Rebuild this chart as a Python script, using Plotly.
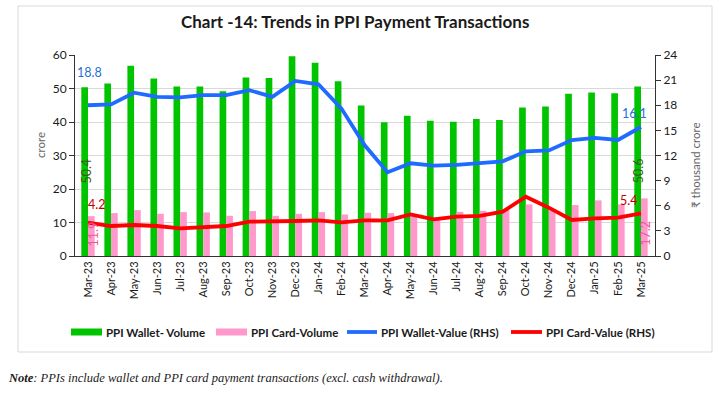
import plotly.graph_objects as go

months = ["Mar-23", "Apr-23", "May-23", "Jun-23", "Jul-23", "Aug-23", "Sep-23", "Oct-23",
          "Nov-23", "Dec-23", "Jan-24", "Feb-24", "Mar-24", "Apr-24", "May-24", "Jun-24",
          "Jul-24", "Aug-24", "Sep-24", "Oct-24", "Nov-24", "Dec-24", "Jan-25", "Feb-25", "Mar-25"]

wallet_volume = [50.4, 51.5, 56.8, 53.0, 50.6, 50.6, 49.2, 53.3, 53.1, 59.6, 57.7, 52.2, 44.9,
                 39.9, 41.9, 40.4, 40.1, 40.9, 40.6, 44.3, 44.6, 48.4, 48.8, 48.6, 50.6]
card_volume = [11.9, 12.8, 13.7, 12.6, 13.1, 13.0, 12.0, 13.4, 12.0, 12.6, 13.1, 12.4, 12.9,
               12.8, 12.4, 10.8, 13.2, 13.5, 13.8, 15.4, 13.7, 15.2, 16.6, 15.4, 17.2]
wallet_value = [18.0, 18.1, 19.5, 19.0, 18.95, 19.2, 19.2, 19.8, 19.0, 20.9, 20.5, 17.6, 13.25,
                10.0, 11.07, 10.8, 10.87, 11.07, 11.3, 12.5, 12.6, 13.85, 14.1, 13.85, 15.4]
card_value = [3.98, 3.58, 3.7, 3.58, 3.3, 3.42, 3.58, 4.1, 4.1, 4.18, 4.26, 4.02, 4.26,
              4.26, 4.97, 4.38, 4.7, 4.78, 5.3, 7.08, 5.77, 4.3, 4.5, 4.58, 5.1]

series_names = ["PPI Wallet- Volume", "PPI Card-Volume", "PPI Wallet-Value (RHS)", "PPI Card-Value (RHS)"]

# data labels shown at first and last points
label_wallet_volume = ["50.4", "50.6"]
label_card_volume = ["11.9", "17.2"]
label_wallet_value = ["18.8", "16.1"]
label_card_value = ["4.2", "5.4"]

GREEN = "#00C400"
PINK = "#FF99CC"
BLUE = "#1F6BFF"
RED = "#FF0000"
FONT = "Lato, 'Open Sans', sans-serif"

W, H = 718, 394
ML, MR, MT, MB = 75, 63, 55, 138
pw, ph = W - ML - MR, H - MT - MB


def px(xp):
    return (xp - ML) / pw


def py(yp):
    return (H - MB - yp) / ph


fig = go.Figure()
fig.add_trace(go.Bar(x=months, y=wallet_volume, name=series_names[0],
                     marker=dict(color=GREEN, line=dict(width=0))))
fig.add_trace(go.Bar(x=months, y=card_volume, name=series_names[1],
                     marker=dict(color=PINK, line=dict(width=0))))
fig.add_trace(go.Scatter(x=months, y=wallet_value, name=series_names[2], yaxis="y2",
                         mode="lines", line=dict(color=BLUE, width=3.8)))
fig.add_trace(go.Scatter(x=months, y=card_value, name=series_names[3], yaxis="y2",
                         mode="lines", line=dict(color=RED, width=3.8)))

ann = []
first, last = months[0], months[-1]
LF = 12.5
ann.append(dict(x=first, y=wallet_value[0], yref="y2", text=label_wallet_value[0], showarrow=False,
                font=dict(color="#1F6FD8", size=LF, family=FONT), xshift=1.5, yshift=33))
ann.append(dict(x=last, y=wallet_value[-1], yref="y2", text=label_wallet_value[1], showarrow=False,
                font=dict(color="#1F6FD8", size=LF, family=FONT), xshift=-7, yshift=14))
ann.append(dict(x=first, y=card_value[0], yref="y2", text=label_card_value[0], showarrow=False,
                font=dict(color="#C00000", size=LF, family=FONT), xshift=8, yshift=18))
ann.append(dict(x=last, y=card_value[-1], yref="y2", text=label_card_value[1], showarrow=False,
                font=dict(color="#C00000", size=LF, family=FONT), xshift=-13, yshift=13))
ann.append(dict(x=first, y=wallet_volume[0] / 2, yref="y", text=label_wallet_volume[0], showarrow=False,
                textangle=-90, font=dict(color="#405A22", size=LF, family=FONT), xshift=-1))
ann.append(dict(x=last, y=wallet_volume[-1] / 2, yref="y", text=label_wallet_volume[1], showarrow=False,
                textangle=-90, font=dict(color="#405A22", size=LF, family=FONT), xshift=-3))
ann.append(dict(x=first, y=card_volume[0] / 2, yref="y", text=label_card_volume[0], showarrow=False,
                textangle=-90, font=dict(color="#F0559A", size=LF, family=FONT), xshift=5.5, yshift=2))
ann.append(dict(x=last, y=card_volume[-1] / 2, yref="y", text=label_card_volume[1], showarrow=False,
                textangle=-90, font=dict(color="#F0559A", size=LF, family=FONT), xshift=4.5, yshift=-6))

# title
ann.append(dict(xref="paper", yref="paper", x=px(355), y=py(22), xanchor="center", yanchor="middle",
                text="<b>Chart -14: Trends in PPI Payment Transactions</b>", showarrow=False,
                font=dict(size=17, color="#1a1a1a", family=FONT)))
# axis titles
ann.append(dict(xref="paper", yref="paper", x=px(40), y=py(145), xanchor="center", yanchor="middle",
                text="crore", textangle=-90, showarrow=False,
                font=dict(size=11.5, color="#666666", family=FONT)))
ann.append(dict(xref="paper", yref="paper", x=px(695), y=py(165), xanchor="center", yanchor="middle",
                text="₹ thousand crore", textangle=-90, showarrow=False,
                font=dict(size=11.5, color="#666666", family=FONT)))
# note
ann.append(dict(xref="paper", yref="paper", x=px(6), y=py(378), xanchor="left", yanchor="middle",
                text="<b><i>Note</i></b><i>: PPIs include wallet and PPI card payment transactions (excl. cash withdrawal).</i>",
                showarrow=False, font=dict(size=12.5, color="#1a1a1a", family="'Liberation Serif', serif")))

shapes = []
# chart border box
shapes.append(dict(type="rect", xref="paper", yref="paper", x0=px(18), x1=px(712), y0=py(352), y1=py(6),
                   line=dict(color="#D9D9D9", width=1), layer="below"))

# custom legend
LY = 332
legend_items = [
    (series_names[0], "rect", GREEN, 71, 102, 104),
    (series_names[1], "rect", PINK, 216, 247, 249),
    (series_names[2], "line", BLUE, 347, 377, 379),
    (series_names[3], "line", RED, 511, 542, 544),
]
for name, kind, color, x0, x1, tx in legend_items:
    if kind == "rect":
        shapes.append(dict(type="rect", xref="paper", yref="paper", x0=px(x0), x1=px(x1),
                           y0=py(LY + 3.5), y1=py(LY - 3.5), fillcolor=color, line=dict(width=0)))
    else:
        shapes.append(dict(type="line", xref="paper", yref="paper", x0=px(x0), x1=px(x1),
                           y0=py(LY), y1=py(LY), line=dict(color=color, width=3.8)))
    ann.append(dict(xref="paper", yref="paper", x=px(tx), y=py(LY), xanchor="left", yanchor="middle",
                    text="<b>" + name + "</b>", showarrow=False,
                    font=dict(size=11.5, color="#1a1a1a", family=FONT)))

fig.update_layout(
    width=W, height=H,
    margin=dict(l=ML, r=MR, t=MT, b=MB, autoexpand=False),
    paper_bgcolor="white", plot_bgcolor="white",
    barmode="group", bargap=0.42, bargroupgap=0,
    font=dict(family=FONT, size=11, color="#1a1a1a"),
    showlegend=False,
    xaxis=dict(type="category", tickangle=-90, tickfont=dict(size=11), showline=True,
               linecolor="#333", linewidth=1, ticks="", showgrid=False, automargin=False),
    yaxis=dict(range=[0, 60], dtick=10, showline=True, linecolor="#333", linewidth=1,
               ticks="outside", ticklen=5, tickcolor="#333", showgrid=True, gridcolor="#D9D9D9",
               tickfont=dict(size=12), zeroline=False, automargin=False),
    yaxis2=dict(range=[0, 24], dtick=3, overlaying="y", side="right", showline=True,
                linecolor="#333", linewidth=1, ticks="outside", ticklen=5, tickcolor="#333",
                showgrid=False, zeroline=False, tickfont=dict(size=12), automargin=False),
    annotations=ann,
    shapes=shapes,
)

fig.write_html("out.html", config={"displayModeBar": False},
               post_script="document.body.style.margin='0';document.body.style.overflow='hidden';")
